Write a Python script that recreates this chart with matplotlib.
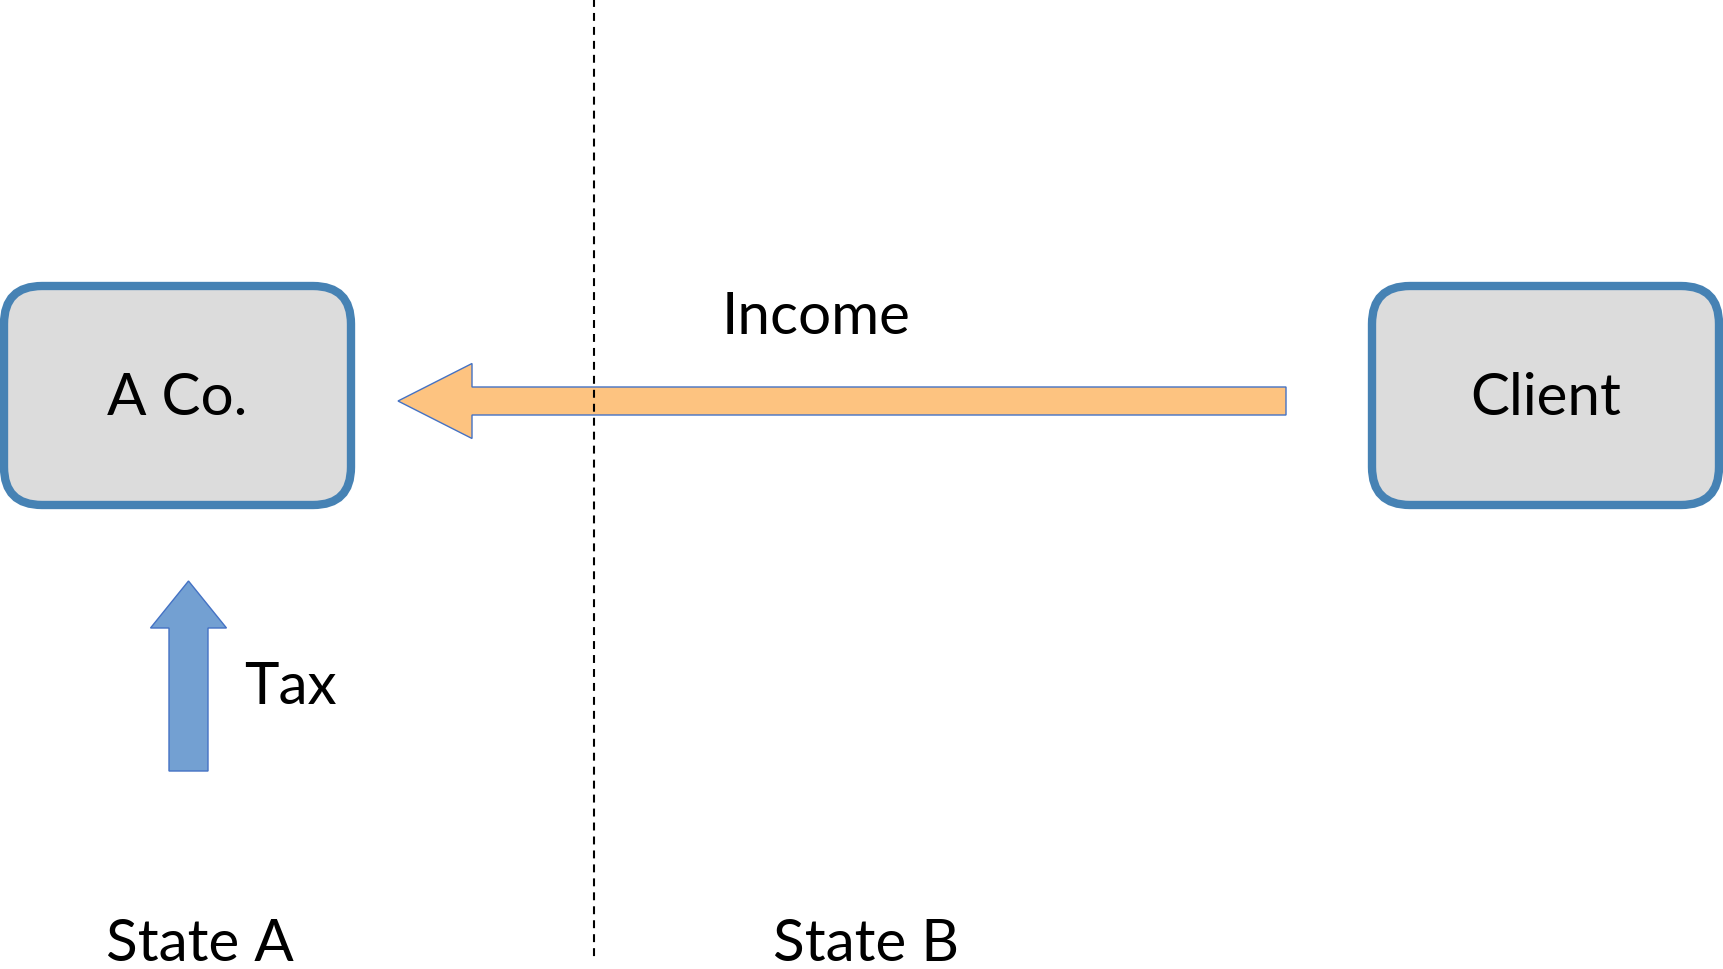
import matplotlib.pyplot as plt
from matplotlib.patches import FancyBboxPatch, FancyArrow

# nodes: label, (left, top, right, bottom) in pixel space
box_labels = ["A Co.", "Client"]
box_left = [4, 1372]
box_right = [351, 1719]
box_top = [287, 287]
box_bottom = [506, 506]

# flows
income_label = "Income"
tax_label = "Tax"
state_labels = ["State A", "State B"]
state_x = [200, 866]

BOX_FILL = "#DCDCDC"
BOX_EDGE = "#4682B4"
ORANGE = "#FDC380"
BLUE_FILL = "#73A0D2"
THIN_EDGE = "#4472C4"
FS = 42

plt.rcParams["font.family"] = ["Lato", "DejaVu Sans"]

fig = plt.figure(figsize=(17.24, 9.70), dpi=100)
ax = fig.add_axes([0, 0, 1, 1])
ax.set_xlim(0, 1724)
ax.set_ylim(970, 0)
ax.set_aspect("equal")
ax.axis("off")

for label, l, r, t, b in zip(box_labels, box_left, box_right, box_top, box_bottom):
    patch = FancyBboxPatch(
        (l, t),
        r - l,
        b - t,
        boxstyle="round,pad=0,rounding_size=38",
        facecolor=BOX_FILL,
        edgecolor=BOX_EDGE,
        linewidth=6,
        zorder=2,
    )
    ax.add_patch(patch)
    ax.text(
        (l + r) / 2,
        (t + b) / 2 + 2,
        label,
        fontsize=FS,
        ha="center",
        va="center",
        color="black",
        zorder=3,
    )

# divider between states
ax.plot([594, 594], [0, 959], color="black", linewidth=1.5,
        linestyle=(0, (3.8, 2.9)), zorder=4)

# income arrow (client -> A Co.)
ax.add_patch(
    FancyArrow(
        1286, 402, 398 - 1286, 0,
        width=28, head_width=75, head_length=74,
        length_includes_head=True,
        facecolor=ORANGE, edgecolor=THIN_EDGE, linewidth=1, zorder=3,
    )
)
ax.text(816, 318, income_label, fontsize=FS, ha="center", va="center")

# tax arrow
ax.add_patch(
    FancyArrow(
        188.5, 772, 0, 582 - 772,
        width=39, head_width=76, head_length=47,
        length_includes_head=True,
        facecolor=BLUE_FILL, edgecolor=THIN_EDGE, linewidth=1, zorder=3,
    )
)
ax.text(244, 688, tax_label, fontsize=FS, ha="left", va="center")

for label, x in zip(state_labels, state_x):
    ax.text(x, 945, label, fontsize=FS, ha="center", va="center")

fig.savefig("out.png", dpi=100)
